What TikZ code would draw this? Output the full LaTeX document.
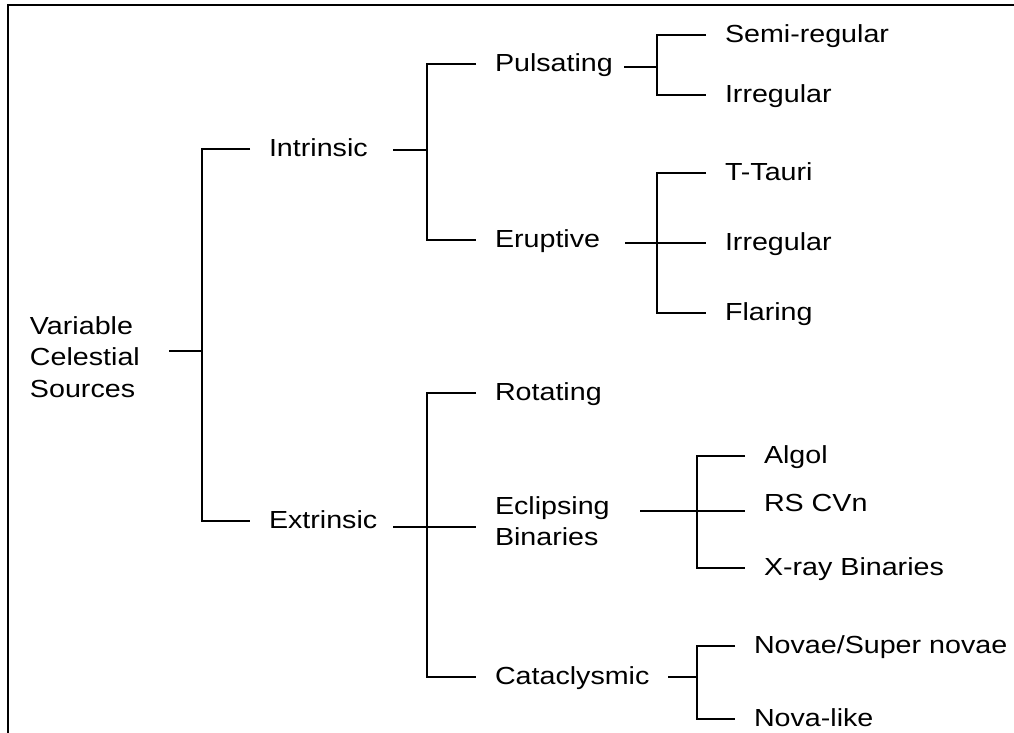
\documentclass[tikz,border=0pt]{standalone}
\usepackage{fontspec}
\setmainfont{Liberation Sans}[FakeStretch=1.16]
\usetikzlibrary{positioning}

\begin{document}
\begin{tikzpicture}[
    x=0.5pt, y=-0.5pt,
    lbl/.style={anchor=west, inner xsep=9pt, inner ysep=0pt, font=\fontsize{12.35}{15.7}\selectfont},
    leaf/.style={lbl, text height=0.72em, text depth=0pt},
    multi/.style={lbl, align=left},
    every path/.style={line width=1pt, black},
]
    \useasboundingbox (0,0) rectangle (1014,733);

    % Frame (top and left only)
    \coordinate (fb) at (8,733);
    \coordinate (fl) at (8,5);
    \coordinate (fr) at (1014,5);
    \draw (fb) -- (fl) -- (fr);

    % Nodes
    \node[multi] (root) at (11,357) {Variable\\Celestial\\Sources};
    \node[leaf] (intr) at (250,149) {Intrinsic};
    \node[leaf] (extr) at (250,521) {Extrinsic};

    \node[leaf] (puls) at (476,64)  {Pulsating};
    \node[leaf] (erup) at (476,240) {Eruptive};
    \node[leaf] (rot)  at (476,393) {Rotating};
    \node[multi] (ecl) at (476,521) {Eclipsing\\Binaries};
    \node[leaf] (cata) at (476,677) {Cataclysmic};

    \node[leaf] (semi) at (706,35)  {Semi-regular};
    \node[leaf] (irr1) at (706,95)  {Irregular};
    \node[leaf] (ttau) at (706,173) {T-Tauri};
    \node[leaf] (irr2) at (706,243) {Irregular};
    \node[leaf] (flar) at (706,313) {Flaring};

    \node[leaf] (algol) at (745,456) {Algol};
    \node[leaf] (rscvn) at (745,504) {RS CVn};
    \node[leaf] (xray)  at (745,568) {X-ray Binaries};

    \node[leaf] (novae) at (735,646) {Novae/Super novae};
    \node[leaf] (novl)  at (735,719) {Nova-like};

    % Junctions and stub starts
    \coordinate (o-root) at (169,351);  \coordinate (j-root) at (202,351);
    \coordinate (o-intr) at (393,150);  \coordinate (j-intr) at (427,150);
    \coordinate (o-extr) at (393,527);  \coordinate (j-extr) at (427,527);
    \coordinate (o-puls) at (624,67);   \coordinate (j-puls) at (657,67);
    \coordinate (o-erup) at (625,243);  \coordinate (j-erup) at (657,243);
    \coordinate (o-ecl)  at (640,511);  \coordinate (j-ecl)  at (697,511);
    \coordinate (o-cata) at (668,677);  \coordinate (j-cata) at (697,677);

    % Connectors
    \draw (intr.west) -| (j-root) |- (extr.west);
    \draw (o-root) -- (j-root);

    \draw (puls.west) -| (j-intr) |- (erup.west);
    \draw (o-intr) -- (j-intr);

    \draw (rot.west) -| (j-extr) |- (cata.west);
    \draw (o-extr) -- (j-extr) -- (ecl.west |- j-extr);

    \draw (semi.west) -| (j-puls) |- (irr1.west);
    \draw (o-puls) -- (j-puls);

    \draw (ttau.west) -| (j-erup) |- (flar.west);
    \draw (o-erup) -- (j-erup) -- (irr2.west);

    \draw (algol.west) -| (j-ecl) |- (xray.west);
    \draw (o-ecl) -- (j-ecl) -- (rscvn.west |- j-ecl);

    \draw (novae.west) -| (j-cata) |- (novl.west);
    \draw (o-cata) -- (j-cata);

\end{tikzpicture}
\end{document}
